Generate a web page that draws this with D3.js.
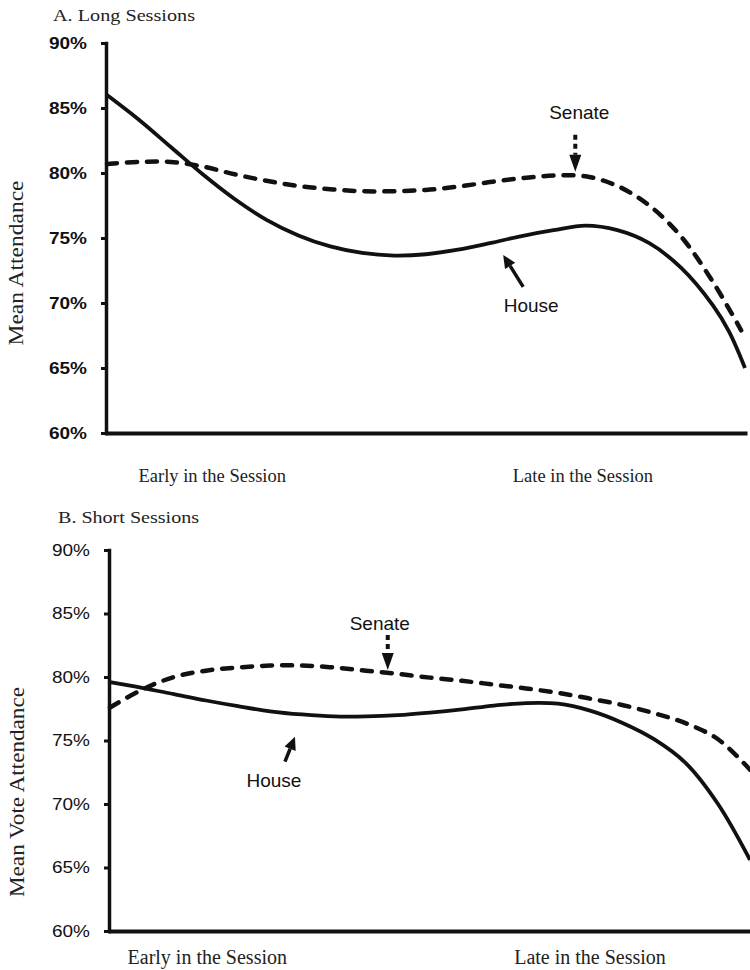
<!DOCTYPE html>
<html>
<head>
<meta charset="utf-8">
<script src="https://cdn.jsdelivr.net/npm/d3@7"></script>
<style>
  html, body { margin: 0; padding: 0; background: #fff; }
  svg { display: block; }
</style>
</head>
<body>
<script>
// Position within the session (0 = start, 100 = end) and mean attendance (%)
const longHousePos  = [0, 5, 10, 15, 20, 25, 30, 35, 40, 45, 50, 55, 60, 65, 70, 75, 80, 85, 90, 95, 97.5, 100];
const longHouse     = [86.0, 84.1, 82.0, 79.9, 78.0, 76.4, 75.2, 74.35, 73.85, 73.65, 73.75, 74.1, 74.6, 75.15, 75.6, 75.95, 75.6, 74.6, 72.7, 69.8, 67.8, 65.0];
const longSenatePos = [0, 5, 10, 15, 20, 25, 30, 35, 40, 45, 50, 55, 60, 65, 70, 75, 80, 85, 90, 95, 99.4];
const longSenate    = [80.7, 80.85, 80.85, 80.5, 79.9, 79.4, 79.0, 78.75, 78.6, 78.6, 78.7, 78.95, 79.3, 79.6, 79.8, 79.75, 79.0, 77.5, 75.1, 71.6, 67.9];

const shortPos    = [0, 5, 10, 15, 20, 25, 30, 35, 40, 45, 50, 55, 60, 65, 70, 75, 80, 85, 90, 95, 100];
const shortHouse  = [79.6, 79.15, 78.65, 78.15, 77.7, 77.3, 77.05, 76.9, 76.9, 77.0, 77.2, 77.45, 77.75, 77.95, 77.9, 77.35, 76.4, 75.1, 73.2, 70.0, 65.6];
const shortSenate = [77.6, 79.0, 80.0, 80.5, 80.75, 80.9, 80.9, 80.75, 80.5, 80.25, 79.95, 79.7, 79.4, 79.1, 78.75, 78.3, 77.8, 77.15, 76.35, 75.1, 72.7];

const yTicks = [60, 65, 70, 75, 80, 85, 90];
const xLabels = ["Early in the Session", "Late in the Session"];
const xLabelPos = [16.5, 74.6];
const xLabelPosShort = [15.2, 75.0];

// Callout labels: arrow tip given in data units (position, attendance %)
const longNotes  = [{label: "Senate", t: 73.4, v: 80.1, kind: "dotted"},
                    {label: "House",  t: 62.1, v: 73.7, kind: "solid"}];
const shortNotes = [{label: "Senate", t: 43.4, v: 80.55, kind: "dotted"},
                    {label: "House",  t: 28.9, v: 75.3, kind: "solid"}];

const SERIF = "'Liberation Serif', 'Times New Roman', Times, serif";
const SANS  = "'Liberation Sans', Arial, Helvetica, sans-serif";

const svg = d3.select("body").append("svg")
  .attr("width", 750).attr("height", 970);

function zip(pos, vals) {
  return pos.map((t, i) => ({t, v: vals[i]}));
}

function arrow(g, x1, y1, x2, y2, kind) {
  // shaft from (x1,y1) to the head base, filled head ending at (x2,y2)
  const dx = x2 - x1, dy = y2 - y1;
  const len = Math.hypot(dx, dy);
  const ux = dx / len, uy = dy / len;
  const headL = kind === "dotted" ? 17 : 13, headW = 6;
  const bx = x2 - ux * headL, by = y2 - uy * headL;
  g.append("line")
    .attr("x1", x1).attr("y1", y1).attr("x2", bx).attr("y2", by)
    .attr("stroke", "#111").attr("stroke-width", kind === "dotted" ? 4 : 3.5)
    .attr("stroke-dasharray", kind === "dotted" ? "5,4" : null);
  g.append("path")
    .attr("d", `M${x2},${y2}L${bx - uy * headW},${by + ux * headW}L${bx + uy * headW},${by - ux * headW}Z`)
    .attr("fill", "#111");
}

function drawPanel(opt) {
  const g = svg.append("g");
  const x = d3.scaleLinear().domain([0, 100]).range(opt.xRange);
  const y = d3.scaleLinear().domain([60, 90]).range(opt.yRange);

  // panel title
  g.append("text")
    .attr("x", opt.title.x).attr("y", opt.title.y)
    .attr("font-family", SERIF).attr("font-size", 17)
    .attr("textLength", opt.title.w).attr("lengthAdjust", "spacingAndGlyphs")
    .attr("fill", "#222")
    .text(opt.title.text);

  // y axis
  const yAxis = d3.axisLeft(y)
    .tickValues(yTicks)
    .tickFormat(d => d + "%")
    .tickSize(5).tickSizeOuter(0).tickPadding(14);
  const ya = g.append("g")
    .attr("transform", `translate(${opt.xRange[0] - 1},0)`)
    .call(yAxis);
  ya.select(".domain").attr("stroke", "#111").attr("stroke-width", 3.5)
    .attr("stroke-linecap", "square");
  ya.selectAll(".tick line").attr("stroke", "#111").attr("stroke-width", 3);
  ya.selectAll(".tick text")
    .attr("font-family", SANS).attr("font-size", 16)
    .attr("font-weight", opt.boldTicks ? "bold" : "normal")
    .attr("fill", "#111")
    .attr("textLength", 38).attr("lengthAdjust", "spacingAndGlyphs");

  // x axis (plain baseline)
  const xAxis = d3.axisBottom(x).tickValues([]).tickSizeOuter(0);
  const xa = g.append("g")
    .attr("transform", `translate(0,${opt.yRange[0]})`)
    .call(xAxis);
  xa.select(".domain").attr("stroke", "#111").attr("stroke-width", 4)
    .attr("stroke-linecap", "square");

  // x category labels
  g.selectAll("text.xl").data(xLabels).join("text")
    .attr("class", "xl")
    .attr("x", (d, i) => x(opt.xLabelPos[i]))
    .attr("y", opt.xLabelY)
    .attr("text-anchor", "middle")
    .attr("font-family", SERIF).attr("font-size", opt.xLabelSize)
    .attr("fill", "#222")
    .text(d => d);

  // y axis title
  g.append("text")
    .attr("transform", `translate(${opt.yTitle.x},${opt.yTitle.y}) rotate(-90)`)
    .attr("text-anchor", "middle")
    .attr("font-family", SERIF).attr("font-size", 21)
    .attr("textLength", opt.yTitle.w).attr("lengthAdjust", "spacingAndGlyphs")
    .attr("fill", "#222")
    .text(opt.yTitle.text);

  const line = d3.line()
    .x(d => x(d.t)).y(d => y(d.v))
    .curve(d3.curveCatmullRom.alpha(0.5));

  // Senate (dashed)
  g.append("path")
    .datum(zip(opt.senatePos, opt.senate))
    .attr("d", line)
    .attr("fill", "none").attr("stroke", "#111")
    .attr("stroke-width", 4.5)
    .attr("stroke-dasharray", "10,10")
    .attr("stroke-linecap", "round");

  // House (solid)
  g.append("path")
    .datum(zip(opt.housePos, opt.house))
    .attr("d", line)
    .attr("fill", "none").attr("stroke", "#111")
    .attr("stroke-width", 3.8)
    .attr("stroke-linejoin", "round");

  // callouts
  opt.notes.forEach((n, i) => {
    const tx = x(n.t), ty = y(n.v);
    const o = opt.noteOffsets[i];
    arrow(g, tx + o.ax, ty + o.ay, tx, ty, n.kind);
    g.append("text")
      .attr("x", tx + o.lx).attr("y", ty + o.ly)
      .attr("text-anchor", "middle")
      .attr("font-family", SANS).attr("font-size", 19)
      .attr("fill", "#111")
      .text(n.label);
  });
}

drawPanel({
  title: {text: "A. Long Sessions", x: 53, y: 21, w: 142},
  xRange: [107, 745], yRange: [433, 43],
  boldTicks: true,
  housePos: longHousePos, house: longHouse,
  senatePos: longSenatePos, senate: longSenate,
  xLabelPos: xLabelPos, xLabelY: 482, xLabelSize: 18.5,
  yTitle: {text: "Mean Attendance", x: 23, y: 263, w: 165},
  notes: longNotes,
  noteOffsets: [{ax: 0, ay: -37, lx: 4, ly: -53},
                {ax: 20, ay: 32, lx: 28, ly: 57}]
});

drawPanel({
  title: {text: "B. Short Sessions", x: 58, y: 523, w: 141},
  xRange: [110, 750], yRange: [931, 550],
  boldTicks: false,
  housePos: shortPos, house: shortHouse,
  senatePos: shortPos, senate: shortSenate,
  xLabelPos: xLabelPosShort, xLabelY: 964, xLabelSize: 20,
  yTitle: {text: "Mean Vote Attendance", x: 24, y: 792, w: 210},
  notes: shortNotes,
  noteOffsets: [{ax: 0, ay: -35, lx: -8, ly: -40},
                {ax: -10, ay: 25, lx: -21, ly: 50}]
});
</script>
</body>
</html>
